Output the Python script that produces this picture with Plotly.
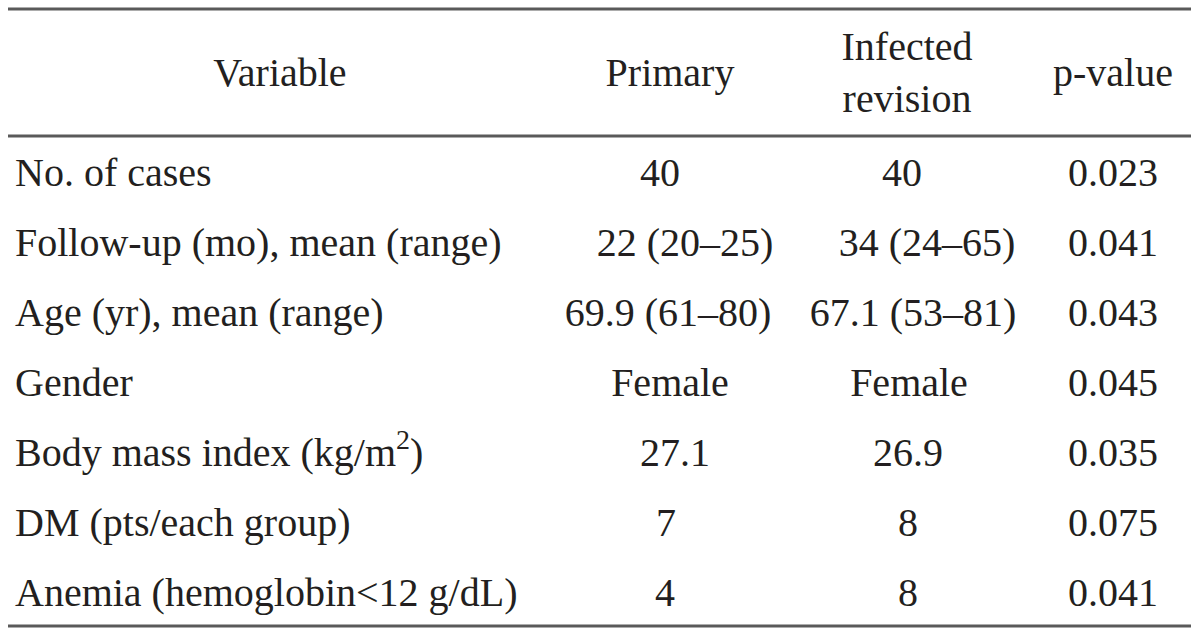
import plotly.graph_objects as go

# ---- data ----
headers = ["Variable", "Primary", "Infected<br>revision", "p-value"]
variables = [
    "No. of cases",
    "Follow-up (mo), mean (range)",
    "Age (yr), mean (range)",
    "Gender",
    "Body mass index (kg/m<sup>2</sup>)",
    "DM (pts/each group)",
    "Anemia (hemoglobin<12 g/dL)",
]
primary = ["40", "22 (20–25)", "69.9 (61–80)", "Female", "27.1", "7", "4"]
infected = ["40", "34 (24–65)", "67.1 (53–81)", "Female", "26.9", "8", "8"]
p_values = ["0.023", "0.041", "0.043", "0.045", "0.035", "0.075", "0.041"]

# ---- layout/style ----
W, H = 1200, 632
FONT = "Liberation Serif"
FS = 40
TXT = "#231f20"
LINE = "#5a5a5a"
col_x = {"label": 15, "variable_hdr": 280, "primary": 670, "infected": 909, "p": 1113}
# small per-row horizontal nudges (typesetting alignment in the original)
primary_dx = [-10, 15, -2, 0, 5, -4, -5]
infected_dx = [-7, 18, 4, 0, -1, -1, -1]
header_y = 76
row0, row_step = 176, 70
line_top, line_mid, line_bot = 9, 136, 626
x0, x1 = 8, 1191

row_y = [row0 + row_step * i for i in range(len(variables))]

fig = go.Figure()
font = dict(family=FONT, size=FS, color=TXT)

# header
fig.add_trace(go.Scatter(
    x=[col_x["variable_hdr"], col_x["primary"], col_x["infected"] - 2, col_x["p"]],
    y=[header_y] * 4, text=headers, mode="text",
    textposition="middle center", textfont=font, hoverinfo="skip"))
# variable labels
fig.add_trace(go.Scatter(
    x=[col_x["label"]] * len(variables), y=row_y, text=variables, mode="text",
    textposition="middle right", textfont=font, hoverinfo="skip"))
for key, vals, dx in (("primary", primary, primary_dx),
                      ("infected", infected, infected_dx),
                      ("p", p_values, [0] * len(p_values))):
    fig.add_trace(go.Scatter(
        x=[col_x[key] + d for d in dx], y=row_y, text=vals, mode="text",
        textposition="middle center", textfont=font, hoverinfo="skip"))

for yy in (line_top, line_mid, line_bot):
    fig.add_shape(type="line", xref="x", yref="y", x0=x0, x1=x1, y0=yy, y1=yy,
                  line=dict(color=LINE, width=3))

fig.update_layout(
    width=W, height=H, margin=dict(l=0, r=0, t=0, b=0),
    paper_bgcolor="white", plot_bgcolor="white", showlegend=False,
    xaxis=dict(range=[0, W], visible=False, fixedrange=True),
    yaxis=dict(range=[H, 0], visible=False, fixedrange=True),
)
fig.write_html("out.html", config={"displayModeBar": False},
               post_script="document.body.style.margin='0px';")
